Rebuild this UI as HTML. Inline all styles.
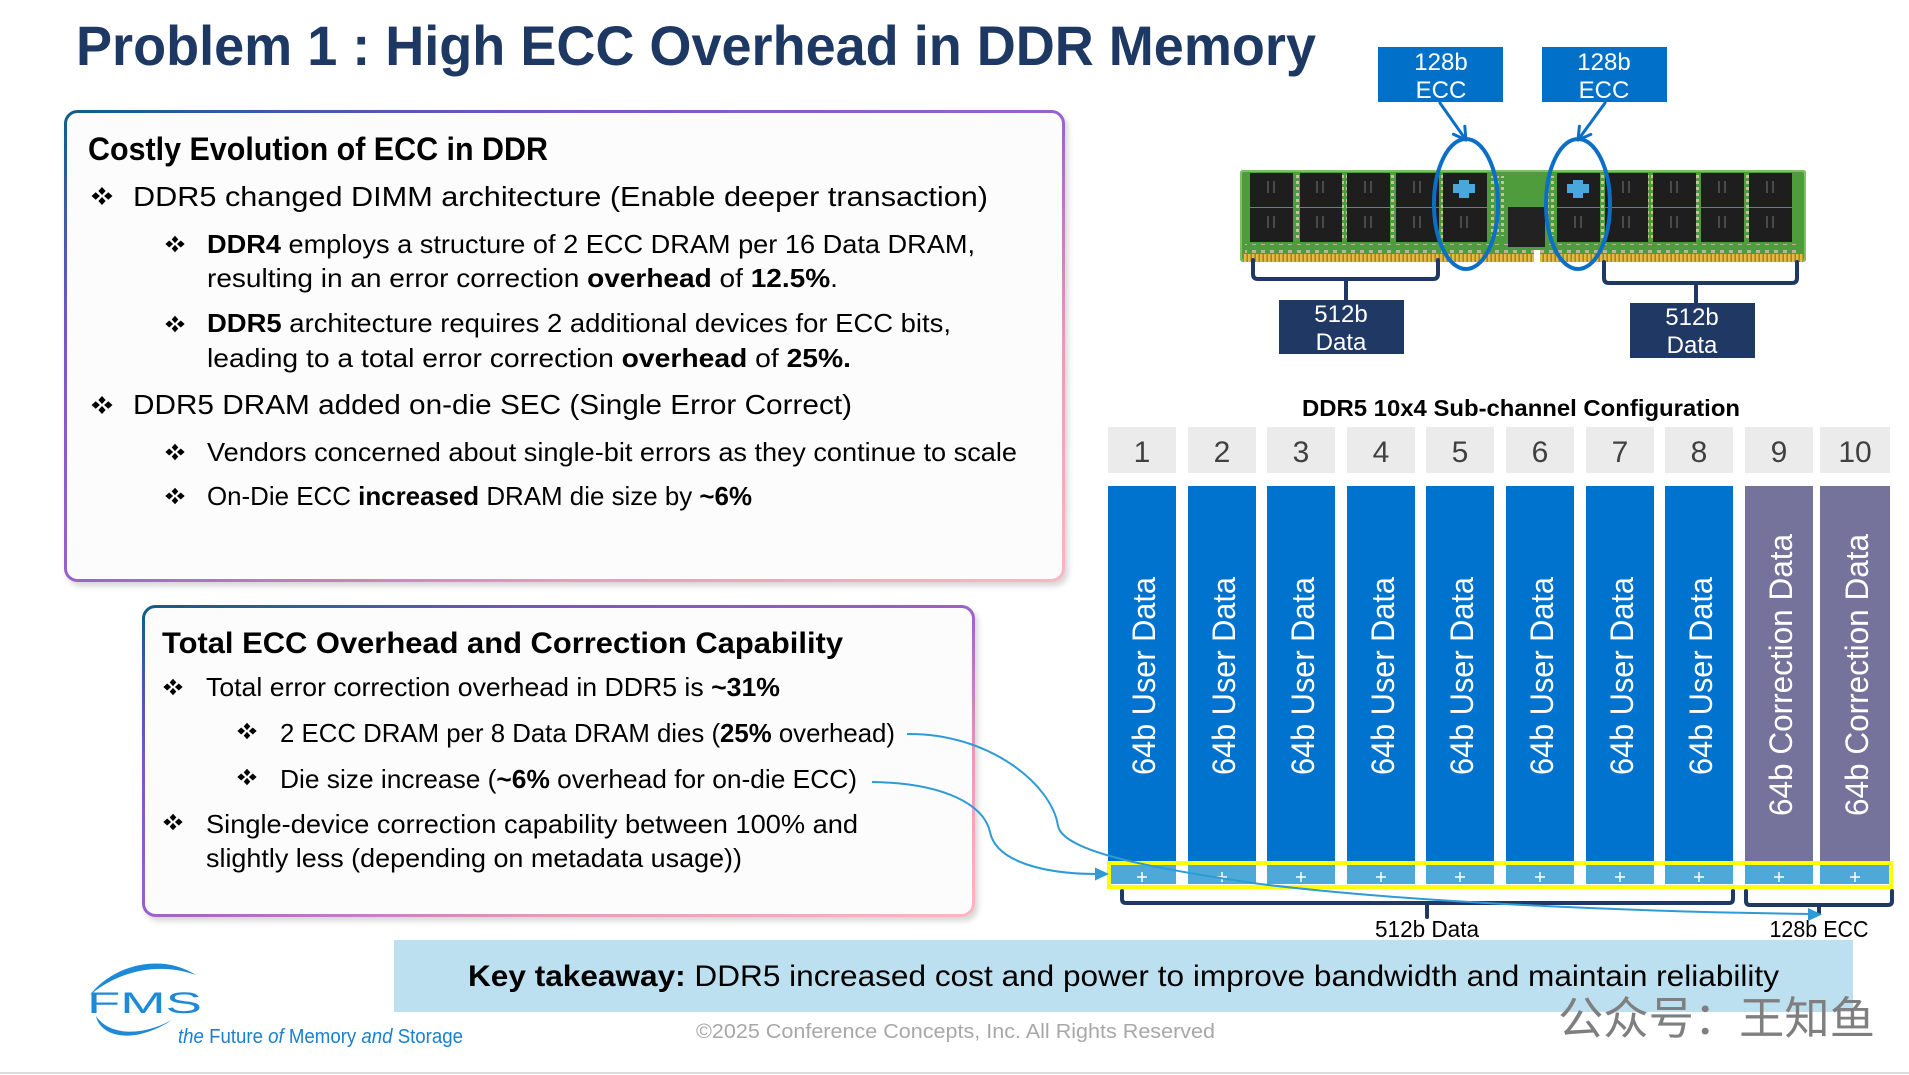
<!DOCTYPE html>
<html><head><meta charset="utf-8"><style>
html,body{margin:0;padding:0;background:#fff;}
svg{display:block;}
text{font-family:"Liberation Sans",sans-serif;}
</style></head><body>
<svg width="1909" height="1075" viewBox="0 0 1909 1075" xmlns="http://www.w3.org/2000/svg">
<defs>
<linearGradient id="bg1" x1="0" y1="0" x2="1" y2="1">
 <stop offset="0" stop-color="#0f5e86"/>
 <stop offset="0.25" stop-color="#7a57c9"/>
 <stop offset="0.5" stop-color="#9a62c8"/>
 <stop offset="0.75" stop-color="#e99bb9"/>
 <stop offset="1" stop-color="#ffb4c1"/>
</linearGradient>
<filter id="sh" x="-5%" y="-5%" width="112%" height="118%">
 <feDropShadow dx="3" dy="4" stdDeviation="3" flood-color="#000" flood-opacity="0.16"/>
</filter>
<g id="bl">
 <polygon points="0,-9 3.6,-5 0,-1 -3.6,-5"/>
 <polygon points="0,1 3.6,5 0,9 -3.6,5"/>
 <polygon points="-10.5,0 -6.3,-3.8 -2.1,0 -6.3,3.8"/>
 <polygon points="2.1,0 6.3,-3.8 10.5,0 6.3,3.8"/>
</g>
<pattern id="gold" width="4" height="10" patternUnits="userSpaceOnUse"><rect width="4" height="10" fill="#a8861c"/><rect width="2.4" height="10" fill="#e0bd45"/></pattern>
<pattern id="comp" width="9" height="8" patternUnits="userSpaceOnUse"><rect width="9" height="8" fill="#4f9c3d"/><rect x="1" y="2" width="4" height="3" fill="#b9b49a"/></pattern>
<pattern id="res" width="5" height="6" patternUnits="userSpaceOnUse"><rect width="5" height="6" fill="#4f9c3d"/><rect x="1" y="1" width="3" height="3" fill="#c8c0a0"/></pattern>
</defs>

<!-- Title -->
<text x="76" y="65" font-size="56" font-weight="bold" fill="#1d3863" textLength="1240" lengthAdjust="spacingAndGlyphs">Problem 1 : High ECC Overhead in DDR Memory</text>

<!-- Box 1 -->
<rect x="65.5" y="111.5" width="998" height="469" rx="12" fill="#fcfcfc" stroke="url(#bg1)" stroke-width="3" filter="url(#sh)"/>
<text x="88" y="160" font-size="32" font-weight="bold" fill="#000" textLength="460" lengthAdjust="spacingAndGlyphs">Costly Evolution of ECC in DDR</text>
<use href="#bl" transform="translate(102,196)"/>
<text x="133" y="206" font-size="28" fill="#000" textLength="855" lengthAdjust="spacingAndGlyphs">DDR5 changed DIMM architecture (Enable deeper transaction)</text>
<use href="#bl" transform="translate(175,244) scale(0.92)"/>
<text x="207" y="253" font-size="26" fill="#000" textLength="768" lengthAdjust="spacingAndGlyphs"><tspan font-weight="bold">DDR4</tspan> employs a structure of 2 ECC DRAM per 16 Data DRAM,</text>
<text x="207" y="287" font-size="26" fill="#000" textLength="631" lengthAdjust="spacingAndGlyphs">resulting in an error correction <tspan font-weight="bold">overhead</tspan> of <tspan font-weight="bold">12.5%</tspan>.</text>
<use href="#bl" transform="translate(175,324) scale(0.92)"/>
<text x="207" y="332" font-size="26" fill="#000" textLength="744" lengthAdjust="spacingAndGlyphs"><tspan font-weight="bold">DDR5</tspan> architecture requires 2 additional devices for ECC bits,</text>
<text x="207" y="367" font-size="26" fill="#000" textLength="644" lengthAdjust="spacingAndGlyphs">leading to a total error correction <tspan font-weight="bold">overhead</tspan> of <tspan font-weight="bold">25%.</tspan></text>
<use href="#bl" transform="translate(102,405)"/>
<text x="133" y="414" font-size="28" fill="#000" textLength="719" lengthAdjust="spacingAndGlyphs">DDR5 DRAM added on-die SEC (Single Error Correct)</text>
<use href="#bl" transform="translate(175,452) scale(0.92)"/>
<text x="207" y="461" font-size="26" fill="#000" textLength="810" lengthAdjust="spacingAndGlyphs">Vendors concerned about single-bit errors as they continue to scale</text>
<use href="#bl" transform="translate(175,496) scale(0.92)"/>
<text x="207" y="505" font-size="26" fill="#000" textLength="545" lengthAdjust="spacingAndGlyphs">On-Die ECC <tspan font-weight="bold">increased</tspan> DRAM die size by <tspan font-weight="bold">~6%</tspan></text>

<!-- Box 2 -->
<rect x="143.5" y="606.5" width="830" height="309" rx="12" fill="#fcfcfc" stroke="url(#bg1)" stroke-width="3" filter="url(#sh)"/>
<text x="162" y="653" font-size="30" font-weight="bold" fill="#000" textLength="681" lengthAdjust="spacingAndGlyphs">Total ECC Overhead and Correction Capability</text>
<use href="#bl" transform="translate(173,687) scale(0.92)"/>
<text x="206" y="696" font-size="26" fill="#000" textLength="574" lengthAdjust="spacingAndGlyphs">Total error correction overhead in DDR5 is <tspan font-weight="bold">~31%</tspan></text>
<use href="#bl" transform="translate(247,731) scale(0.92)"/>
<text x="280" y="742" font-size="26" fill="#000" textLength="615" lengthAdjust="spacingAndGlyphs">2 ECC DRAM per 8 Data DRAM dies (<tspan font-weight="bold">25%</tspan> overhead)</text>
<use href="#bl" transform="translate(247,777) scale(0.92)"/>
<text x="280" y="788" font-size="26" fill="#000" textLength="577" lengthAdjust="spacingAndGlyphs">Die size increase (<tspan font-weight="bold">~6%</tspan> overhead for on-die ECC)</text>
<use href="#bl" transform="translate(173,822) scale(0.92)"/>
<text x="206" y="833" font-size="26" fill="#000" textLength="652" lengthAdjust="spacingAndGlyphs">Single-device correction capability between 100% and</text>
<text x="206" y="867" font-size="26" fill="#000" textLength="536" lengthAdjust="spacingAndGlyphs">slightly less (depending on metadata usage))</text>

<!-- DIMM -->
<rect x="1240" y="170" width="566" height="92" rx="3" fill="#4f9c3d"/>
<rect x="1241" y="171" width="564" height="90" rx="3" fill="none" stroke="#7fc064" stroke-width="2"/>
<rect x="1245" y="244" width="556" height="9" fill="url(#comp)"/>
<g fill="url(#res)">
 <rect x="1294" y="175" width="6" height="66"/><rect x="1342" y="175" width="5" height="66"/>
 <rect x="1391" y="175" width="5" height="66"/><rect x="1439" y="175" width="4" height="66"/>
 <rect x="1600" y="175" width="5" height="66"/><rect x="1648" y="175" width="5" height="66"/>
 <rect x="1696" y="175" width="5" height="66"/><rect x="1744" y="175" width="5" height="66"/>
 <rect x="1490" y="176" width="14" height="60"/><rect x="1548" y="176" width="8" height="60"/>
</g>
<g fill="#1e1e1e">
 <rect x="1250" y="173" width="43" height="34"/><rect x="1250" y="208" width="43" height="34"/>
 <rect x="1300" y="173" width="42" height="34"/><rect x="1300" y="208" width="42" height="34"/>
 <rect x="1347" y="173" width="43" height="34"/><rect x="1347" y="208" width="43" height="34"/>
 <rect x="1396" y="173" width="43" height="34"/><rect x="1396" y="208" width="43" height="34"/>
 <rect x="1443" y="173" width="44" height="34"/><rect x="1443" y="208" width="44" height="34"/>
 <rect x="1557" y="173" width="43" height="34"/><rect x="1557" y="208" width="43" height="34"/>
 <rect x="1605" y="173" width="43" height="34"/><rect x="1605" y="208" width="43" height="34"/>
 <rect x="1653" y="173" width="43" height="34"/><rect x="1653" y="208" width="43" height="34"/>
 <rect x="1701" y="173" width="43" height="34"/><rect x="1701" y="208" width="43" height="34"/>
 <rect x="1749" y="173" width="43" height="34"/><rect x="1749" y="208" width="43" height="34"/>
 <rect x="1508" y="207" width="37" height="40" fill="#222"/>
</g>
<g fill="#4a4a4a">
 <rect x="1267" y="181" width="2" height="12"/><rect x="1273" y="181" width="2" height="12"/><rect x="1267" y="216" width="2" height="12"/><rect x="1273" y="216" width="2" height="12"/>
 <rect x="1316" y="181" width="2" height="12"/><rect x="1322" y="181" width="2" height="12"/><rect x="1316" y="216" width="2" height="12"/><rect x="1322" y="216" width="2" height="12"/>
 <rect x="1364" y="181" width="2" height="12"/><rect x="1370" y="181" width="2" height="12"/><rect x="1364" y="216" width="2" height="12"/><rect x="1370" y="216" width="2" height="12"/>
 <rect x="1413" y="181" width="2" height="12"/><rect x="1419" y="181" width="2" height="12"/><rect x="1413" y="216" width="2" height="12"/><rect x="1419" y="216" width="2" height="12"/>
 <rect x="1460" y="216" width="2" height="12"/><rect x="1466" y="216" width="2" height="12"/>
 <rect x="1574" y="216" width="2" height="12"/><rect x="1580" y="216" width="2" height="12"/>
 <rect x="1622" y="181" width="2" height="12"/><rect x="1628" y="181" width="2" height="12"/><rect x="1622" y="216" width="2" height="12"/><rect x="1628" y="216" width="2" height="12"/>
 <rect x="1670" y="181" width="2" height="12"/><rect x="1676" y="181" width="2" height="12"/><rect x="1670" y="216" width="2" height="12"/><rect x="1676" y="216" width="2" height="12"/>
 <rect x="1718" y="181" width="2" height="12"/><rect x="1724" y="181" width="2" height="12"/><rect x="1718" y="216" width="2" height="12"/><rect x="1724" y="216" width="2" height="12"/>
 <rect x="1766" y="181" width="2" height="12"/><rect x="1772" y="181" width="2" height="12"/><rect x="1766" y="216" width="2" height="12"/><rect x="1772" y="216" width="2" height="12"/>
</g>
<rect x="1243" y="254" width="560" height="8" fill="url(#gold)"/>
<rect x="1534" y="250" width="6" height="13" fill="#fff"/>
<g fill="#4aa7dc">
 <rect x="1453" y="184" width="22" height="9"/><rect x="1459" y="180" width="10" height="18"/>
 <rect x="1567" y="184" width="22" height="9"/><rect x="1573" y="180" width="10" height="18"/>
</g>
<ellipse cx="1466" cy="204" rx="32" ry="65" fill="none" stroke="#0c6fc6" stroke-width="4"/>
<ellipse cx="1578" cy="204" rx="32" ry="65" fill="none" stroke="#0c6fc6" stroke-width="4"/>

<!-- ECC boxes + arrows -->
<rect x="1378" y="47" width="125" height="55" fill="#0070c8"/>
<rect x="1542" y="47" width="125" height="55" fill="#0070c8"/>
<g font-size="24" fill="#fff" text-anchor="middle">
 <text x="1441" y="70">128b</text><text x="1441" y="98">ECC</text>
 <text x="1604" y="70">128b</text><text x="1604" y="98">ECC</text>
</g>
<g stroke="#0c6fc6" stroke-width="3" fill="none" stroke-linecap="round" stroke-linejoin="round">
 <line x1="1440" y1="103" x2="1466" y2="140"/>
 <polyline points="1453.4,134.2 1466,140 1464.8,126.2"/>
 <line x1="1605" y1="103" x2="1578" y2="140"/>
 <polyline points="1579.4,126.2 1578,140 1590.8,134.4"/>
</g>

<!-- DIMM brackets -->
<g stroke="#1f3864" stroke-width="4" fill="none" stroke-linecap="round" stroke-linejoin="round">
 <path d="M1253,260 L1253,274 Q1253,279 1258,279 L1433,279 Q1438,279 1438,274 L1438,260"/>
 <path d="M1346,279 L1346,300"/>
 <path d="M1604,262 L1604,278 Q1604,283 1609,283 L1792,283 Q1797,283 1797,278 L1797,262"/>
 <path d="M1696,283 L1696,303"/>
</g>
<rect x="1279" y="300" width="125" height="54" fill="#203864"/>
<rect x="1630" y="303" width="125" height="55" fill="#203864"/>
<g font-size="24" fill="#fff" text-anchor="middle">
 <text x="1341" y="322">512b</text><text x="1341" y="350">Data</text>
 <text x="1692" y="325">512b</text><text x="1692" y="353">Data</text>
</g>

<!-- Sub-channel configuration -->
<text x="1302" y="416" font-size="23" font-weight="bold" fill="#000" textLength="438" lengthAdjust="spacingAndGlyphs">DDR5 10x4 Sub-channel Configuration</text>
<g fill="#ebebeb">
 <rect x="1108" y="427" width="68" height="46"/><rect x="1188" y="427" width="68" height="46"/>
 <rect x="1267" y="427" width="68" height="46"/><rect x="1347" y="427" width="68" height="46"/>
 <rect x="1426" y="427" width="68" height="46"/><rect x="1506" y="427" width="68" height="46"/>
 <rect x="1586" y="427" width="68" height="46"/><rect x="1665" y="427" width="68" height="46"/>
 <rect x="1745" y="427" width="68" height="46"/><rect x="1820" y="427" width="70" height="46"/>
</g>
<g font-size="30" fill="#404040" text-anchor="middle">
 <text x="1142" y="462">1</text><text x="1222" y="462">2</text><text x="1301" y="462">3</text>
 <text x="1381" y="462">4</text><text x="1460" y="462">5</text><text x="1540" y="462">6</text>
 <text x="1620" y="462">7</text><text x="1699" y="462">8</text><text x="1779" y="462">9</text>
 <text x="1855" y="462">10</text>
</g>
<g fill="#0073cf">
 <rect x="1108" y="486" width="68" height="376"/><rect x="1188" y="486" width="68" height="376"/>
 <rect x="1267" y="486" width="68" height="376"/><rect x="1347" y="486" width="68" height="376"/>
 <rect x="1426" y="486" width="68" height="376"/><rect x="1506" y="486" width="68" height="376"/>
 <rect x="1586" y="486" width="68" height="376"/><rect x="1665" y="486" width="68" height="376"/>
</g>
<g fill="#75729c">
 <rect x="1745" y="486" width="68" height="376"/><rect x="1820" y="486" width="70" height="376"/>
</g>
<g font-size="32" fill="#fff" text-anchor="middle">
 <text transform="translate(1155,676) rotate(-90)" textLength="198" lengthAdjust="spacingAndGlyphs">64b User Data</text>
 <text transform="translate(1235,676) rotate(-90)" textLength="198" lengthAdjust="spacingAndGlyphs">64b User Data</text>
 <text transform="translate(1314,676) rotate(-90)" textLength="198" lengthAdjust="spacingAndGlyphs">64b User Data</text>
 <text transform="translate(1394,676) rotate(-90)" textLength="198" lengthAdjust="spacingAndGlyphs">64b User Data</text>
 <text transform="translate(1473,676) rotate(-90)" textLength="198" lengthAdjust="spacingAndGlyphs">64b User Data</text>
 <text transform="translate(1553,676) rotate(-90)" textLength="198" lengthAdjust="spacingAndGlyphs">64b User Data</text>
 <text transform="translate(1633,676) rotate(-90)" textLength="198" lengthAdjust="spacingAndGlyphs">64b User Data</text>
 <text transform="translate(1712,676) rotate(-90)" textLength="198" lengthAdjust="spacingAndGlyphs">64b User Data</text>
 <text transform="translate(1792,675) rotate(-90)" textLength="282" lengthAdjust="spacingAndGlyphs">64b Correction Data</text>
 <text transform="translate(1868,675) rotate(-90)" textLength="282" lengthAdjust="spacingAndGlyphs">64b Correction Data</text>
</g>
<!-- strip -->
<g fill="#4ea8d8">
 <rect x="1108" y="865" width="68" height="19"/><rect x="1188" y="865" width="68" height="19"/>
 <rect x="1267" y="865" width="68" height="19"/><rect x="1347" y="865" width="68" height="19"/>
 <rect x="1426" y="865" width="68" height="19"/><rect x="1506" y="865" width="68" height="19"/>
 <rect x="1586" y="865" width="68" height="19"/><rect x="1665" y="865" width="68" height="19"/>
 <rect x="1745" y="865" width="68" height="19"/><rect x="1820" y="865" width="70" height="19"/>
</g>
<g stroke="#fff" stroke-width="1.5">
 <path d="M1137,877h10M1142,872v10"/><path d="M1217,877h10M1222,872v10"/>
 <path d="M1296,877h10M1301,872v10"/><path d="M1376,877h10M1381,872v10"/>
 <path d="M1455,877h10M1460,872v10"/><path d="M1535,877h10M1540,872v10"/>
 <path d="M1615,877h10M1620,872v10"/><path d="M1694,877h10M1699,872v10"/>
 <path d="M1774,877h10M1779,872v10"/><path d="M1850,877h10M1855,872v10"/>
</g>
<rect x="1109" y="863" width="782" height="24" fill="none" stroke="#ffff00" stroke-width="4"/>

<!-- strip brackets -->
<g stroke="#1f3864" stroke-width="4" fill="none" stroke-linecap="round" stroke-linejoin="round">
 <path d="M1122,891 L1122,899 Q1122,903 1126,903 L1729,903 Q1733,903 1733,899 L1733,891"/>
 <path d="M1427,903 L1427,917"/>
 <path d="M1746,891 L1746,901 Q1746,905 1750,905 L1888,905 Q1892,905 1892,901 L1892,891"/>
 <path d="M1819,905 L1819,913"/>
</g>
<text x="1427" y="937" font-size="23" fill="#000" text-anchor="middle" textLength="104" lengthAdjust="spacingAndGlyphs">512b Data</text>
<text x="1819" y="937" font-size="23" fill="#000" text-anchor="middle" textLength="99" lengthAdjust="spacingAndGlyphs">128b ECC</text>

<!-- connectors -->
<g stroke="#2e9bd6" stroke-width="2" fill="none">
 <path d="M907,734 C990,733 1052,785 1058,826 C1064,852 1150,868 1260,884 C1400,901 1600,911 1810,914"/>
 <path d="M872,782 C945,783 984,805 990,832 C996,862 1045,874 1097,874"/>
</g>
<g fill="#2e9bd6">
 <polygon points="1822,914.5 1808,908 1808,921"/>
 <polygon points="1109,874 1095,867.5 1095,880.5"/>
</g>

<!-- Key takeaway -->
<rect x="394" y="940" width="1459" height="72" fill="#bce0f0"/>
<text x="468" y="986" font-size="30" fill="#000" textLength="1311" lengthAdjust="spacingAndGlyphs"><tspan font-weight="bold">Key takeaway:</tspan> DDR5 increased cost and power to improve bandwidth and maintain reliability</text>

<!-- footer -->
<text x="696" y="1038" font-size="20" fill="#a8a8a8" textLength="519" lengthAdjust="spacingAndGlyphs">©2025 Conference Concepts, Inc. All Rights Reserved</text>
<text x="1558" y="1034" font-size="45" fill="#7f7f7f" style="font-family:'Liberation Sans','Noto Sans CJK SC',sans-serif" textLength="317" lengthAdjust="spacingAndGlyphs">公众号：王知鱼</text>

<!-- FMS logo -->
<path d="M90,995 C112,966 160,952 196,975 C160,962 120,970 90,995 Z" fill="#1e8ad6"/>
<path d="M96,1016 C100,1036 132,1046 172,1020 C138,1038 108,1034 96,1016 Z" fill="#1e8ad6"/>
<text x="87" y="1013" font-size="30" fill="#1e8ad6" textLength="115" lengthAdjust="spacingAndGlyphs">FMS</text>
<text x="178" y="1043" font-size="20" fill="#1a80d0" textLength="285" lengthAdjust="spacingAndGlyphs"><tspan font-style="italic">the</tspan> Future <tspan font-style="italic">of</tspan> Memory <tspan font-style="italic">and</tspan> Storage</text>

<rect x="0" y="1072" width="1909" height="2" fill="#dcdcdc"/>
</svg>
</body></html>
